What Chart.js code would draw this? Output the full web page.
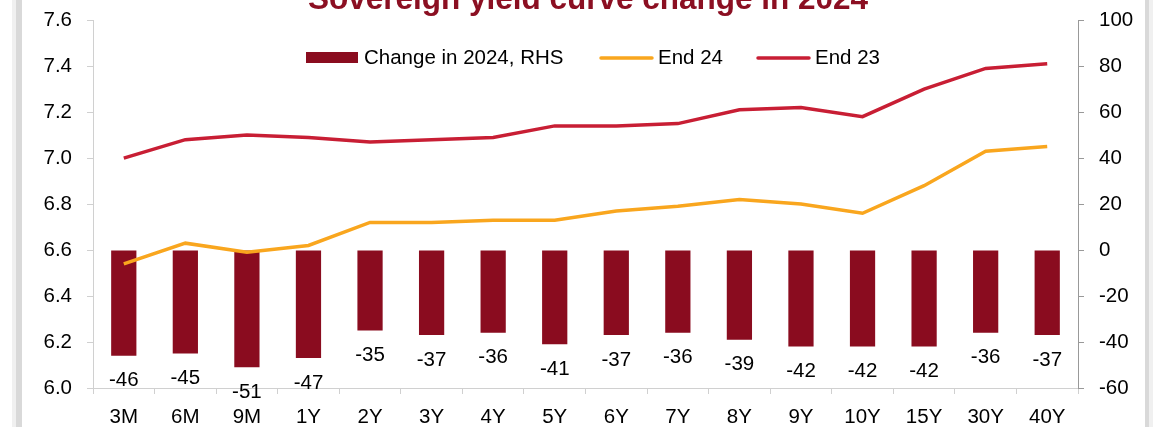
<!DOCTYPE html>
<html>
<head>
<meta charset="utf-8">
<script src="https://cdn.jsdelivr.net/npm/chart.js@4.4.1/dist/chart.umd.min.js"></script>
<style>
  html, body { margin: 0; padding: 0; background: #fff; }
  canvas { display: block; }
</style>
</head>
<body>
<canvas id="yieldChart" width="1153" height="427"></canvas>
<script>
const categories = ['3M', '6M', '9M', '1Y', '2Y', '3Y', '4Y', '5Y', '6Y', '7Y', '8Y', '9Y', '10Y', '15Y', '30Y', '40Y'];
const change2024 = [-46, -45, -51, -47, -35, -37, -36, -41, -37, -36, -39, -42, -42, -42, -36, -37];
const end24 = [6.54, 6.63, 6.59, 6.62, 6.72, 6.72, 6.73, 6.73, 6.77, 6.79, 6.82, 6.80, 6.76, 6.88, 7.03, 7.05];
const end23 = [7.00, 7.08, 7.10, 7.09, 7.07, 7.08, 7.09, 7.14, 7.14, 7.15, 7.21, 7.22, 7.18, 7.30, 7.39, 7.41];
const leftTicks = [6.0, 6.2, 6.4, 6.6, 6.8, 7.0, 7.2, 7.4, 7.6];
const rightTicks = [-60, -40, -20, 0, 20, 40, 60, 80, 100];

const titleText = 'Sovereign yield curve change in 2024';
const FONT = '"Liberation Sans", Arial, sans-serif';
const FS = 20.5;
const BAR_COLOR = '#8A0C1F';
const ORANGE = '#F9A61E';
const RED = '#C81E34';

// frame strips, title, legend and bar value labels
const decorPlugin = {
  id: 'decor',
  beforeDraw(chart) {
    const ctx = chart.ctx;
    ctx.save();
    ctx.fillStyle = '#fff';
    ctx.fillRect(0, 0, chart.width, chart.height);
    ctx.fillStyle = '#F0F0F0';
    ctx.fillRect(12, 0, 4, chart.height);
    ctx.fillStyle = '#D9D9D9';
    ctx.fillRect(16, 0, 6, chart.height);
    ctx.fillStyle = '#D9D9D9';
    ctx.fillRect(1145, 0, 4, chart.height);
    ctx.fillStyle = '#F0F0F0';
    ctx.fillRect(1149, 0, 4, chart.height);
    ctx.restore();
  },
  afterDraw(chart) {
    const ctx = chart.ctx;
    ctx.save();

    // title (cut off at the top like the source)
    ctx.font = `bold 31.5px ${FONT}`;
    ctx.fillStyle = '#8B0F22';
    ctx.textAlign = 'center';
    ctx.textBaseline = 'alphabetic';
    ctx.fillText(titleText, 588, 9);

    // value labels under the bars
    const meta = chart.getDatasetMeta(0);
    ctx.font = `${FS}px ${FONT}`;
    ctx.fillStyle = '#000';
    ctx.textBaseline = 'middle';
    meta.data.forEach((bar, i) => {
      ctx.fillText(String(change2024[i]), bar.x, bar.y + 25);
    });

    // legend
    ctx.textAlign = 'left';
    ctx.fillStyle = BAR_COLOR;
    ctx.fillRect(306, 52, 52, 11);
    ctx.fillStyle = '#000';
    ctx.fillText(chart.data.datasets[0].label, 364, 58);

    ctx.lineCap = 'round';
    ctx.lineWidth = 3.5;
    ctx.strokeStyle = ORANGE;
    ctx.beginPath(); ctx.moveTo(601, 58); ctx.lineTo(652, 58); ctx.stroke();
    ctx.fillText(chart.data.datasets[1].label, 658, 58);

    ctx.strokeStyle = RED;
    ctx.beginPath(); ctx.moveTo(758, 58); ctx.lineTo(809, 58); ctx.stroke();
    ctx.fillText(chart.data.datasets[2].label, 815, 58);

    ctx.restore();
  }
};

new Chart(document.getElementById('yieldChart'), {
  data: {
    labels: categories,
    datasets: [
      {
        type: 'bar',
        label: 'Change in 2024, RHS',
        data: change2024,
        yAxisID: 'yR',
        backgroundColor: BAR_COLOR,
        barPercentage: 0.41,
        categoryPercentage: 1,
        order: 2
      },
      {
        type: 'line',
        label: 'End 24',
        data: end24,
        yAxisID: 'yL',
        borderColor: ORANGE,
        borderWidth: 3.5,
        pointRadius: 0,
        tension: 0,
        order: 1
      },
      {
        type: 'line',
        label: 'End 23',
        data: end23,
        yAxisID: 'yL',
        borderColor: RED,
        borderWidth: 3.5,
        pointRadius: 0,
        tension: 0,
        order: 0
      }
    ]
  },
  options: {
    responsive: false,
    animation: false,
    layout: { padding: { top: 20, left: 0, right: 0, bottom: 0 } },
    plugins: {
      legend: { display: false },
      tooltip: { enabled: false }
    },
    scales: {
      x: {
        offset: true,
        grid: { drawOnChartArea: false, tickLength: 6, color: '#D0D0D0', offset: true },
        border: { color: '#D0D0D0', dash: [4, 3] },
        ticks: { color: '#000', font: { size: FS, family: FONT }, padding: 11, maxRotation: 0 },
        afterFit(s) { s.height = 39; }
      },
      yL: {
        position: 'left',
        min: 6.0,
        max: 7.6,
        afterBuildTicks(s) { s.ticks = leftTicks.map(v => ({ value: v })); },
        ticks: { color: '#000', font: { size: FS, family: FONT, lineHeight: 0.5 }, padding: 15, callback: v => Number(v).toFixed(1) },
        grid: { drawOnChartArea: false, tickLength: 6, color: '#D0D0D0' },
        border: { color: '#D0D0D0', dash: [4, 3] },
        afterFit(s) { s.width = 93; }
      },
      yR: {
        position: 'right',
        min: -60,
        max: 100,
        afterBuildTicks(s) { s.ticks = rightTicks.map(v => ({ value: v })); },
        ticks: { color: '#000', font: { size: FS, family: FONT, lineHeight: 0.5 }, padding: 15 },
        grid: { drawOnChartArea: false, tickLength: 6, color: '#999' },
        border: { color: '#999' },
        afterFit(s) { s.width = 75; }
      }
    }
  },
  plugins: [decorPlugin]
});
</script>
</body>
</html>
